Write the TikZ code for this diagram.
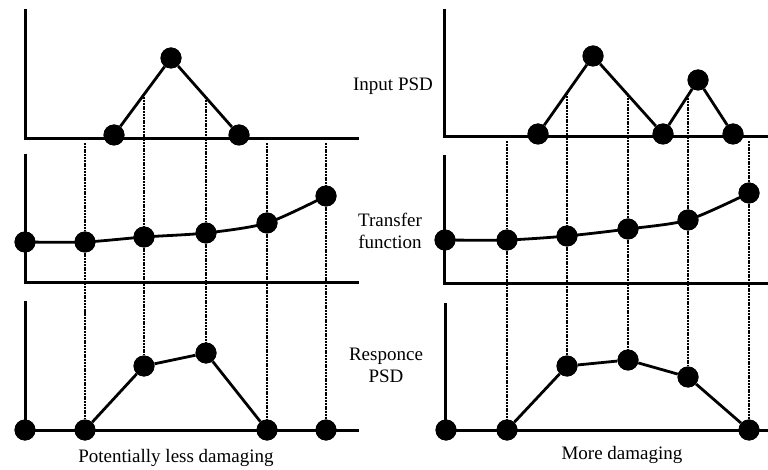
\documentclass[tikz,border=0pt]{standalone}
\usepackage{fontspec}
\setmainfont{Liberation Serif}
\begin{document}
\begin{tikzpicture}[x=1pt,y=-1pt,
  dot/.style={circle,fill=black,inner sep=0pt,minimum size=21pt},
  axis/.style={line width=3pt},
  curve/.style={line width=2.8pt,line join=round},
  guide/.style={line width=2.2pt,dash pattern=on 2pt off 0.8pt},
  lab/.style={font=\fontsize{19}{22}\selectfont,align=center,inner sep=0pt}]
\useasboundingbox (0,0) rectangle (768,470);
% ---------------- LEFT ----------------
\coordinate (LAt) at (25,9);   \coordinate (LAo) at (25,139); \coordinate (LAe) at (359,139);
\coordinate (LBt) at (25,154); \coordinate (LBo) at (25,283); \coordinate (LBe) at (359,283);
\coordinate (LCt) at (25,301); \coordinate (LCo) at (25,430); \coordinate (LCe) at (359,430);
\draw[axis] (LAt) -- (LAo) -- (LAe);
\draw[axis] (LBt) -- (LBo) -- (LBe);
\draw[axis] (LCt) -- (LCo) -- (LCe);
\node[dot] (li1) at (114,135) {};
\node[dot] (li2) at (171,58) {};
\node[dot] (li3) at (239,135) {};
\node[dot] (lt0) at (25,242) {};
\node[dot] (lt1) at (85,242) {};
\node[dot] (lt2) at (144,237) {};
\node[dot] (lt3) at (206,233) {};
\node[dot] (lt4) at (267,223) {};
\node[dot] (lt5) at (326,196) {};
\node[dot] (lr0) at (25,430) {};
\node[dot] (lr1) at (85,430) {};
\node[dot] (lr2) at (144,366) {};
\node[dot] (lr3) at (206,353) {};
\node[dot] (lr4) at (267,430) {};
\node[dot] (lr5) at (326,430) {};
\coordinate (ls1) at (85,143);
\coordinate (ls2) at (144,94.5);
\coordinate (ls3) at (206,97.5);
\coordinate (ls4) at (267,143);
\coordinate (ls5) at (326,143);
\foreach \i in {1,...,5}{\draw[guide] (ls\i) -- (lt\i) -- (lr\i);}
\draw[curve] (li1) -- (li2) -- (li3);
\draw[curve] plot[smooth,tension=0.45] coordinates {(lt0) (lt1) (lt2) (lt3) (lt4) (lt5)};
\draw[curve] (lr1) -- (lr2) -- (lr3) -- (lr4);
\foreach \n in {li1,li2,li3,lt0,lt1,lt2,lt3,lt4,lt5,lr0,lr1,lr2,lr3,lr4,lr5}{\fill (\n) circle (10.5pt);}
% ---------------- RIGHT ----------------
\coordinate (RAt) at (444,9);   \coordinate (RAo) at (444,137); \coordinate (RAe) at (768,137);
\coordinate (RBt) at (444,155); \coordinate (RBo) at (444,284); \coordinate (RBe) at (768,284);
\coordinate (RCt) at (445,303); \coordinate (RCo) at (445,430); \coordinate (RCe) at (768,430);
\draw[axis] (RAt) -- (RAo) -- (RAe);
\draw[axis] (RBt) -- (RBo) -- (RBe);
\draw[axis] (RCt) -- (RCo) -- (RCe);
\node[dot] (ri1) at (538,134) {};
\node[dot] (ri2) at (593,56) {};
\node[dot] (ri3) at (663,134) {};
\node[dot] (ri4) at (698,80) {};
\node[dot] (ri5) at (733,134) {};
\node[dot] (rt0) at (445,240) {};
\node[dot] (rt1) at (507,240) {};
\node[dot] (rt2) at (567,236) {};
\node[dot] (rt3) at (628,229) {};
\node[dot] (rt4) at (688,220) {};
\node[dot] (rt5) at (749,193) {};
\node[dot] (rr0) at (446,430) {};
\node[dot] (rr1) at (507,430) {};
\node[dot] (rr2) at (567,366) {};
\node[dot] (rr3) at (628,360) {};
\node[dot] (rr4) at (688,377) {};
\node[dot] (rr5) at (749,430) {};
\coordinate (rs1) at (507,141);
\coordinate (rs2) at (567,93.5);
\coordinate (rs3) at (628,95.5);
\coordinate (rs4) at (688,95.5);
\coordinate (rs5) at (749,141);
\foreach \i in {1,...,5}{\draw[guide] (rs\i) -- (rt\i) -- (rr\i);}
\draw[curve] (ri1) -- (ri2) -- (ri3) -- (ri4) -- (ri5);
\draw[curve] plot[smooth,tension=0.45] coordinates {(rt0) (rt1) (rt2) (rt3) (rt4) (rt5)};
\draw[curve] (rr1) -- (rr2) -- (rr3) -- (rr4) -- (rr5);
\foreach \n in {ri1,ri2,ri3,ri4,ri5,rt0,rt1,rt2,rt3,rt4,rt5,rr0,rr1,rr2,rr3,rr4,rr5}{\fill (\n) circle (10.5pt);}
% ---------------- LABELS ----------------
\node[lab] (tin) at (393,86) {Input PSD};
\node[lab] (ttf) at (390,231) {Transfer\\function};
\node[lab] (trs) at (386,365) {Responce\\PSD};
\node[lab] (tl) at (176,458) {Potentially less damaging};
\node[lab] (tr) at (622,455) {More damaging};
\end{tikzpicture}
\end{document}
